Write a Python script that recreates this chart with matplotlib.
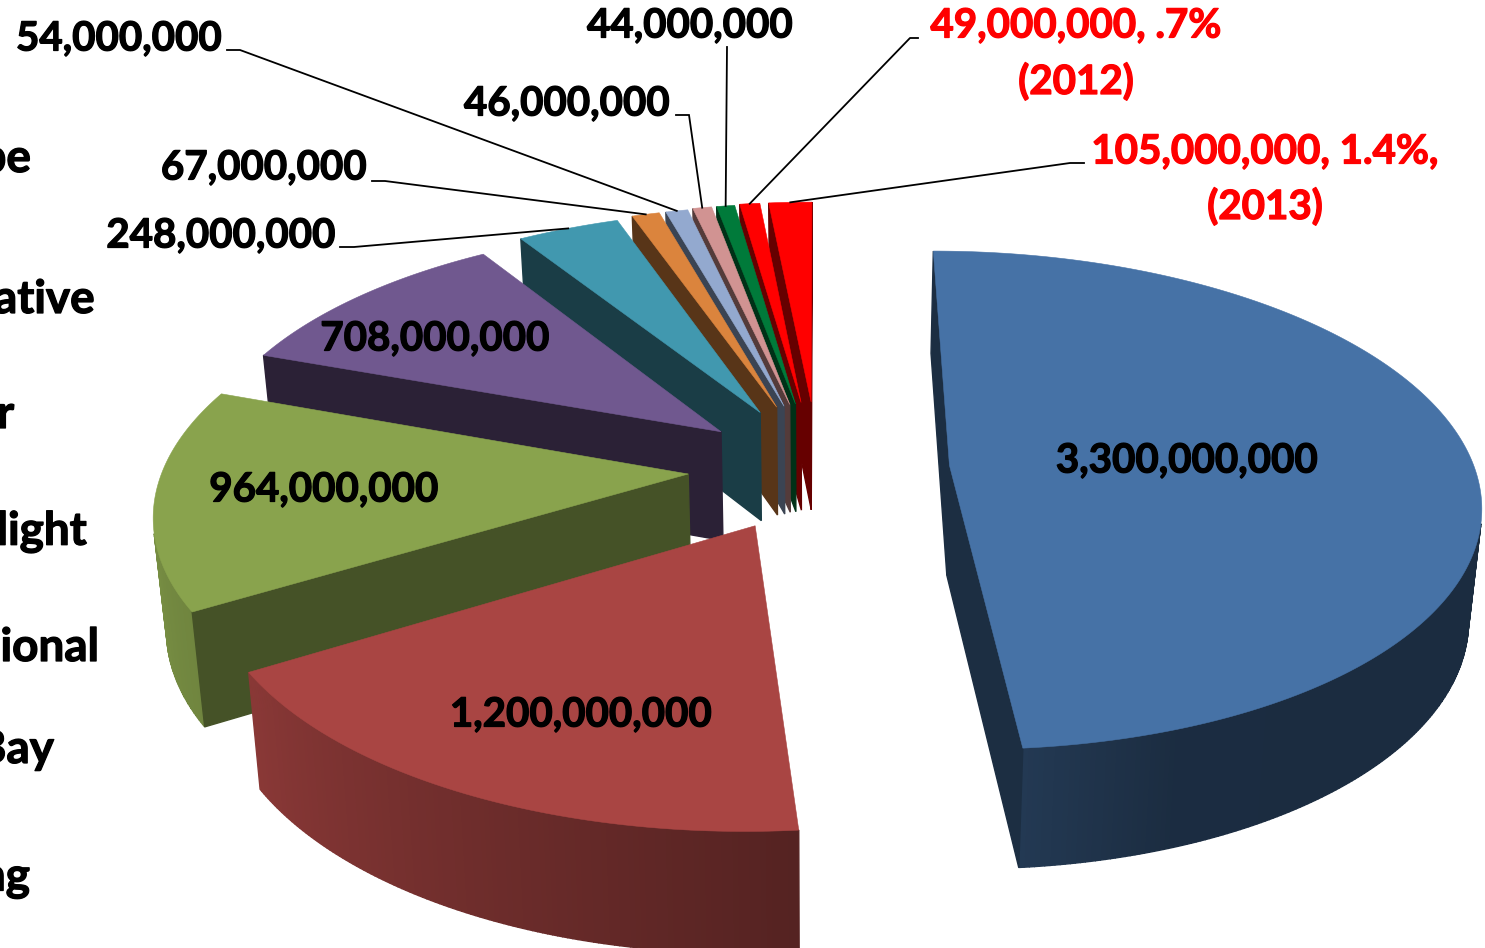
import numpy as np
import matplotlib
matplotlib.use("Agg")
import matplotlib.pyplot as plt
from matplotlib.colors import to_rgb
from matplotlib.patches import Polygon
import matplotlib.patheffects as pe

# Slice values in clockwise order from twelve o'clock
values = [3300000000, 1200000000, 964000000, 708000000, 248000000,
          67000000, 54000000, 46000000, 44000000, 49000000, 105000000]
colors = ["#4672A6", "#A94543", "#89A34D", "#70588F", "#4198AF",
          "#DB843D", "#93A9CF", "#D19392", "#007A3A", "#FF0000", "#FF0000"]
face_shade = [0.40, 0.40, 0.50, 0.38, 0.40, 0.40, 0.40, 0.40, 0.40, 0.40, 0.40]
explode = [0.251, 0.256, 0.2476, 0.2417, 0.26, 0.27, 0.27, 0.275, 0.275, 0.28, 0.28]

# Category names, cut off by the left edge of the canvas
legend_names = ["pe", "ative", "r", "light", "ional", "Bay", "ng"]
legend_right = [31, 95, 14, 87, 99, 54, 30]
legend_y = [157, 298, 413, 530, 646, 748, 876]

# Perspective of the pie in canvas pixels
CX, CY = 818.0, 468.0
RX, RY = 525.0, 245.0
PERSP = 0.14
THICK = 110.0
TAPER = 0.02

plt.rcParams["font.family"] = ["Lato", "DejaVu Sans"]
FS = 29.0
LEGEND_FS = 33.0

fig = plt.figure(figsize=(14.85, 9.48), dpi=100)
ax = fig.add_axes([0, 0, 1, 1])
ax.set_xlim(0, 1485)
ax.set_ylim(948, 0)
ax.axis("off")


def project(x, y, depth=0.0):
    w = 1 + PERSP * y
    px = RX * x / w
    py = CY - RY * y / w + depth * THICK / w ** 0.55
    return CX + px * (1 - TAPER * depth), py


def signed_area(pts):
    p = np.asarray(pts)
    return 0.5 * np.sum(p[:, 0] * np.roll(p[:, 1], -1) - np.roll(p[:, 0], -1) * p[:, 1])


def rim_shade(theta):
    return np.interp(theta % 360, [90, 160, 175, 240, 270, 300],
                     [0.38, 0.39, 0.50, 0.82, 0.90, 0.90])


def draw_quad(a, b, depth_color):
    quad = [project(*a), project(*b), project(*b, 1), project(*a, 1)]
    if signed_area(quad) < 0:
        ax.add_patch(Polygon(quad, closed=True, fc=depth_color, ec=depth_color, lw=1.0, zorder=2))


def label(x, y, text, color="black", size=FS, ha="center"):
    t = ax.text(x, y + 2, text, ha=ha, va="center", fontsize=size, color=color,
                fontweight="bold", zorder=5)
    t.set_path_effects([pe.withStroke(linewidth=0.9, foreground=color)])
    return t


total = sum(values)
edges = np.concatenate([[0], np.cumsum(values)]) / total * 360
outer_mid = {}

for i in range(len(values) - 1, -1, -1):
    start, stop = edges[i], edges[i + 1]
    mid = np.radians((start + stop) / 2)
    ox, oy = explode[i] * np.sin(mid), explode[i] * np.cos(mid)
    thetas = np.linspace(start, stop, max(6, int((stop - start) * 2)))
    rad = np.radians(thetas)
    outline = np.column_stack([ox + np.sin(rad), oy + np.cos(rad)])
    apex = (ox, oy)
    base = np.array(to_rgb(colors[i]))
    flat = tuple(base * face_shade[i])

    # Outer rim first, then the cut faces on both sides of the slice
    for j in range(len(outline) - 1):
        shade = rim_shade((thetas[j] + thetas[j + 1]) / 2)
        draw_quad(outline[j], outline[j + 1], tuple(base * shade))
    draw_quad(apex, outline[0], flat)
    draw_quad(outline[-1], apex, flat)

    top = [project(*apex)] + [project(x, y) for x, y in outline]
    ax.add_patch(Polygon(top, closed=True, fc=colors[i], ec=colors[i], lw=0.4, zorder=2))
    outer_mid[i] = project(ox + np.sin(mid), oy + np.cos(mid))


def money(i):
    return f"{values[i]:,}"


# Labels sitting on the large slices
for i, (x, y) in {0: (1187, 459), 1: (581, 713), 2: (324, 488), 3: (435, 337)}.items():
    label(x, y, money(i))

# Outside labels with leader lines: slice, text position, start of leader, elbow
outside = [
    (4, (221, 234), (340, 247), (354, 247)),
    (5, (264, 166), (372, 181), (385, 181)),
    (6, (119, 37), (227, 50), (240, 50)),
    (7, (567, 102), (676, 115), (689, 115)),
    (8, (690, 24), (727, 47), (727, 47)),
]
for i, pos, first, elbow in outside:
    label(*pos, money(i))
    end = outer_mid[i]
    ax.plot([first[0], elbow[0], end[0]], [first[1], elbow[1], end[1]],
            color="black", lw=1.3, zorder=4, solid_joinstyle="miter")

label(1076, 24, f"{money(9)}, .7%", color="red")
label(1076, 80, "(2012)", color="red")
ax.plot([918, 910, outer_mid[9][0]], [38, 38, outer_mid[9][1]], color="black", lw=1.3, zorder=4)

label(1265, 150, f"{money(10)}, 1.4%,", color="red")
label(1265, 205, "(2013)", color="red")
ax.plot([1084, 1070, outer_mid[10][0]], [163, 163, outer_mid[10][1]], color="black", lw=1.3, zorder=4)

# Legend entries running off the left edge
for name, right, y in zip(legend_names, legend_right, legend_y):
    label(right, y, name, size=LEGEND_FS, ha="right")

fig.savefig("out.png", dpi=100, facecolor="white")
